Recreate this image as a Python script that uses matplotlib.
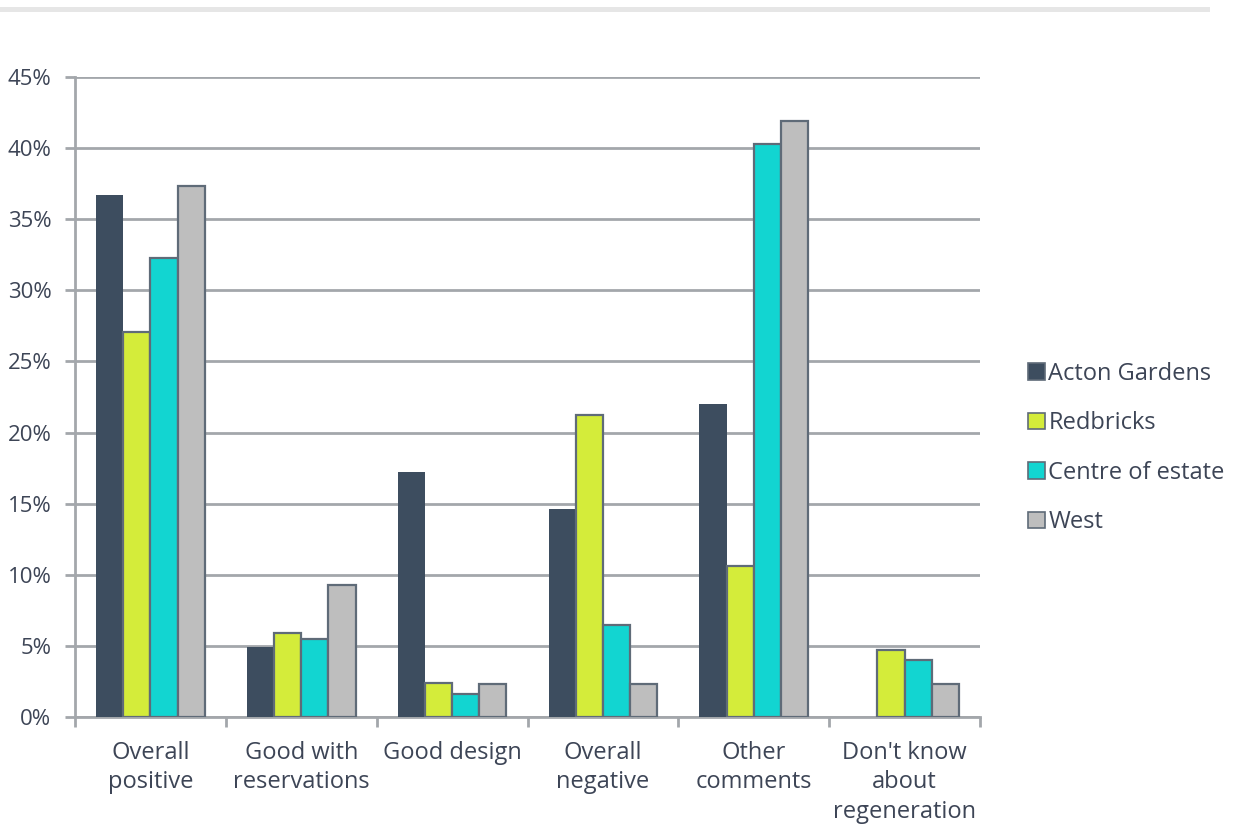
import numpy as np
import matplotlib.pyplot as plt

# ===== data =====
categories = ['Overall\npositive', 'Good with\nreservations', 'Good design',
              'Overall\nnegative', 'Other\ncomments', "Don't know\nabout\nregeneration"]
series_names = ['Acton Gardens', 'Redbricks', 'Centre of estate', 'West']
acton = [36.7, 4.9, 17.2, 14.6, 22.0, 0.0]
redbricks = [27.1, 5.9, 2.4, 21.2, 10.6, 4.7]
centre = [32.3, 5.5, 1.6, 6.5, 40.3, 4.0]
west = [37.3, 9.3, 2.3, 2.3, 41.9, 2.3]
yticks = [0, 5, 10, 15, 20, 25, 30, 35, 40, 45]

colors = ['#3d4d5f', '#d4ec3a', '#12d5d1', '#bebebe']
edge = '#5f6b78'
txt = '#3d4556'
grid_c = '#a3a7ab'

plt.rcParams['font.family'] = ['Open Sans', 'DejaVu Sans']

fig = plt.figure(figsize=(12.44, 8.25), dpi=100)
ax = fig.add_axes([0.0603, 0.1309, 0.7275, 0.7758])

# thin grey band at the top of the page
fig.add_artist(plt.Rectangle((0, 0.985), 0.973, 0.006, transform=fig.transFigure,
                             color='#e6e6e6', lw=0))

x = np.arange(len(categories))
w = 0.18
all_vals = [acton, redbricks, centre, west]
for i, (vals, c) in enumerate(zip(all_vals, colors)):
    lw = 0 if i == 0 else 1.6
    ax.bar(x + (i - 1.5) * w, vals, w, color=c, edgecolor=edge, linewidth=lw,
           label=series_names[i], zorder=3)

ax.set_xlim(-0.5, len(categories) - 0.5)
ax.set_ylim(0, 45)
ax.set_yticks(yticks)
ax.set_yticklabels([f'{v}%' for v in yticks], fontsize=16, color=txt)
ax.yaxis.grid(True, color=grid_c, linewidth=2, zorder=0)
ax.tick_params(axis='y', length=7, width=2, color=grid_c, pad=10)

ax.set_xticks(np.arange(len(categories) + 1) - 0.5, minor=True)
ax.set_xticks(x)
ax.set_xticklabels(categories, fontsize=17, color=txt, linespacing=1.32)
ax.tick_params(axis='x', which='major', length=0, pad=17)
ax.tick_params(axis='x', which='minor', length=7, width=2, color=grid_c)

for s in ['top', 'right']:
    ax.spines[s].set_visible(False)
ax.spines['left'].set_color(grid_c)
ax.spines['left'].set_linewidth(2)
ax.spines['bottom'].set_color(grid_c)
ax.spines['bottom'].set_linewidth(2)

leg = ax.legend(loc='center left', bbox_to_anchor=(1.03, 0.42), frameon=False,
                fontsize=17, handlelength=0.7, handleheight=0.7,
                handletextpad=0.15, labelspacing=1.08, labelcolor=txt)
for h in leg.legend_handles:
    h.set_edgecolor(edge)
    h.set_linewidth(1.2)

fig.savefig('out.png', dpi=100)
